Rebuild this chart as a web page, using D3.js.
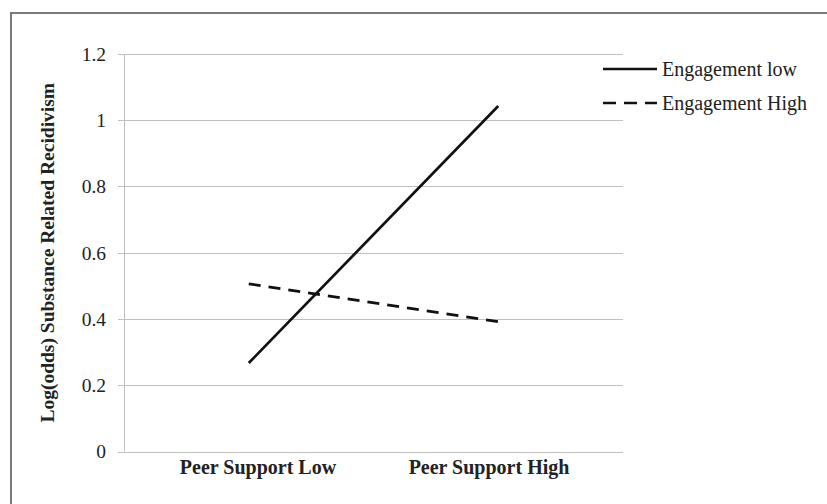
<!DOCTYPE html>
<html>
<head>
<meta charset="utf-8">
<script src="https://cdn.jsdelivr.net/npm/d3@7"></script>
<style>
  body { margin: 0; background: #fff; }
  text { font-family: "Liberation Serif", "Times New Roman", serif; fill: #222; }
</style>
</head>
<body>
<div id="chart"></div>
<script>
// data
var categories = ["Peer Support Low", "Peer Support High"];
var seriesNames = ["Engagement low", "Engagement High"];
var engagementLow = [0.267, 1.043];
var engagementHigh = [0.506, 0.392];
var yTicks = [0, 0.2, 0.4, 0.6, 0.8, 1, 1.2];

var w = 827, h = 504;
var plotLeft = 124, plotRight = 623, plotTop = 54, plotBottom = 451.5;

var svg = d3.select("#chart").append("svg")
    .attr("width", w)
    .attr("height", h);

// frame (only top and left edges visible)
svg.append("path")
    .attr("d", "M11,504 V13 H827")
    .attr("fill", "none")
    .attr("stroke", "#7a7a7a")
    .attr("stroke-width", 2);

var x = d3.scaleBand().domain(categories).range([plotLeft, plotRight]);
var xLabel = d3.scalePoint().domain(categories).range([plotLeft, plotRight]).padding(0.58);
var y = d3.scaleLinear().domain([0, 1.2]).range([plotBottom, plotTop]);

// gridlines
svg.append("g").selectAll("line")
    .data(yTicks)
    .enter().append("line")
    .attr("x1", plotLeft - 6)
    .attr("x2", plotRight)
    .attr("y1", function (d) { return Math.round(y(d)) + 0.5; })
    .attr("y2", function (d) { return Math.round(y(d)) + 0.5; })
    .attr("stroke", "#bfbfbf")
    .attr("stroke-width", 1);

// y axis line
svg.append("line")
    .attr("x1", plotLeft + 0.5).attr("x2", plotLeft + 0.5)
    .attr("y1", y(1.2)).attr("y2", y(0))
    .attr("stroke", "#bfbfbf");

// y tick labels
svg.append("g").selectAll("text")
    .data(yTicks)
    .enter().append("text")
    .attr("x", 106)
    .attr("y", function (d) { return y(d); })
    .attr("dy", "0.35em")
    .attr("text-anchor", "end")
    .style("font-size", "19.5px")
    .text(function (d) { return d; });

// x category labels
svg.append("g").selectAll("text")
    .data(categories)
    .enter().append("text")
    .attr("x", function (d) { return xLabel(d); })
    .attr("y", 474)
    .attr("text-anchor", "middle")
    .style("font-size", "20px")
    .style("font-weight", "bold")
    .text(function (d) { return d; });

// y axis title
svg.append("text")
    .attr("transform", "translate(54," + ((plotTop + plotBottom) / 2) + ") rotate(-90)")
    .attr("text-anchor", "middle")
    .style("font-size", "19.5px")
    .style("font-weight", "bold")
    .text("Log(odds) Substance Related Recidivism");

// lines
var line = d3.line()
    .x(function (d, i) { return x(categories[i]) + x.bandwidth() / 2; })
    .y(function (d) { return y(d); });

var series = [
    { name: seriesNames[0], values: engagementLow, dash: null },
    { name: seriesNames[1], values: engagementHigh, dash: "12,8" }
];

svg.append("g").selectAll("path")
    .data(series)
    .enter().append("path")
    .attr("d", function (d) { return line(d.values); })
    .attr("fill", "none")
    .attr("stroke", "#111")
    .attr("stroke-width", 2.7)
    .attr("stroke-dasharray", function (d) { return d.dash; });

// legend
var legend = svg.append("g").selectAll("g")
    .data(series)
    .enter().append("g")
    .attr("transform", function (d, i) { return "translate(603," + (69 + i * 34) + ")"; });

legend.append("line")
    .attr("x1", 0).attr("x2", 54)
    .attr("stroke", "#111")
    .attr("stroke-width", 2.7)
    .attr("stroke-dasharray", function (d) { return d.dash ? "13,8" : null; });

legend.append("text")
    .attr("x", 59)
    .attr("dy", "0.33em")
    .style("font-size", "20px")
    .text(function (d) { return d.name; });
</script>
</body>
</html>
